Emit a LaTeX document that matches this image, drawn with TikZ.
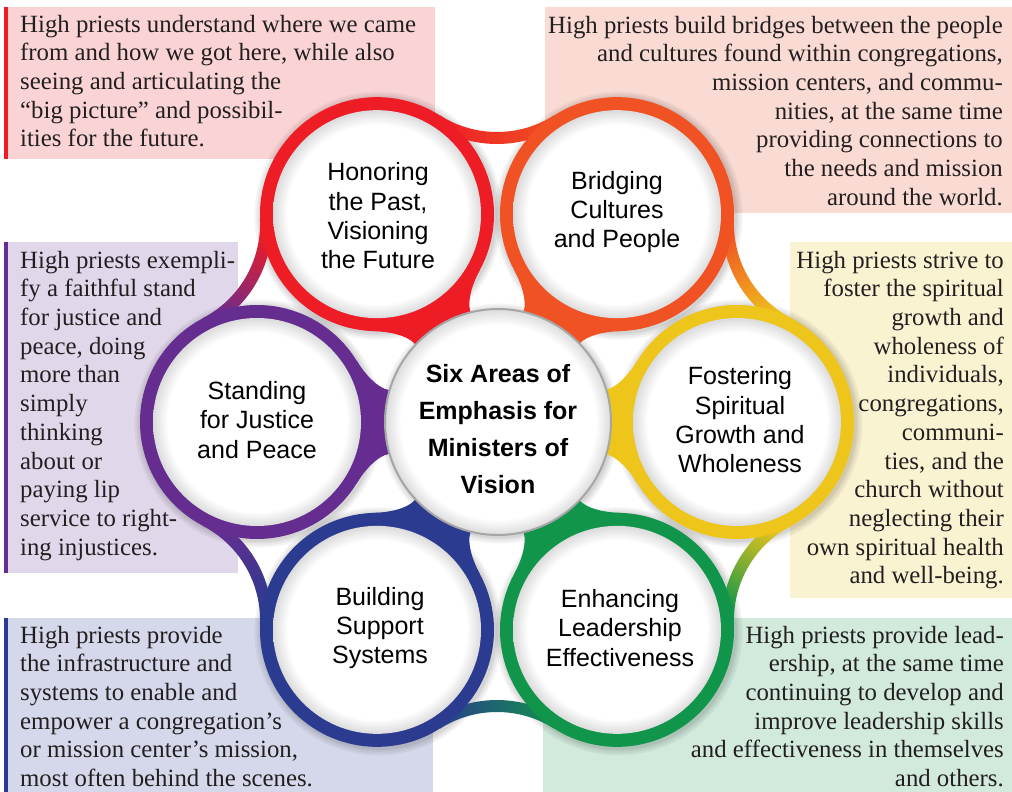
\documentclass[tikz,border=0pt]{standalone}
\usepackage{fontspec}
\setmainfont{Liberation Serif}
\setsansfont{Liberation Sans}
\usetikzlibrary{calc}
\definecolor{cRed}{HTML}{EE1C25}
\definecolor{cOrange}{HTML}{F05224}
\definecolor{cYellow}{HTML}{EEC51B}
\definecolor{cGreen}{HTML}{10954A}
\definecolor{cBlue}{HTML}{2B3B8F}
\definecolor{cPurple}{HTML}{662D91}
\definecolor{bxA}{RGB}{250,212,213}
\definecolor{bxB}{RGB}{249,219,211}
\definecolor{bxC}{RGB}{224,215,234}
\definecolor{bxD}{RGB}{250,243,210}
\definecolor{bxE}{RGB}{212,216,234}
\definecolor{bxF}{RGB}{209,234,220}
\definecolor{txt}{HTML}{231F20}
\pgfdeclareradialshading{innershadow}{\pgfpointorigin}{color(0bp)=(white); color(21.5bp)=(white); color(25bp)=(black!14); color(50bp)=(black!14)}
\begin{document}
\begin{tikzpicture}[x=1pt,y=1pt,
  desc/.style={font=\fontsize{24.8}{28.7}\selectfont, text=txt, inner sep=0pt},
  lbl/.style={font=\sffamily\fontsize{25}{29.3}\selectfont, align=center, inner sep=0pt, text=black},
  ctrlbl/.style={font=\sffamily\bfseries\fontsize{25}{37}\selectfont, align=center, inner sep=0pt, text=black},
  softshadow/.style={fill=black, opacity=0.045}]
\useasboundingbox (0,0) rectangle (1012,-792);
\fill[white] (0,0) rectangle (1012,-792);
% text boxes
\fill[bxA] (4,-7) rectangle (435,-159);
\fill[cRed] (4,-7) rectangle (8,-159);
\fill[bxB] (545,-7) rectangle (1012,-213);
\fill[bxC] (4,-242) rectangle (238,-573);
\fill[cPurple] (4,-242) rectangle (8,-573);
\fill[bxD] (790,-242) rectangle (1012,-598);
\fill[bxE] (4,-618) rectangle (433,-792);
\fill[cBlue] (4,-618) rectangle (8,-792);
\fill[bxF] (543,-618) rectangle (1012,-792);
\coordinate (O) at (497,-422);
% soft shadows around rings and centre circle
\foreach \a in {120,60,0,300,240,180}{
  \foreach \r in {124,122,120,118.5}{
    \path[softshadow] ($(O)+(\a:240)+(1.5,-1.5)$) circle[radius=\r];
  }
}
\foreach \r in {120,118,116,114.5}{
  \path[softshadow] (499.5,-423.5) circle[radius=\r];
}
% outer bridges between neighbouring rings
\foreach \a/\ct/\cb in {90/cRed/cOrange, 150/cPurple/cRed, 210/cBlue/cPurple, 270/cGreen/cBlue, 330/cYellow/cGreen, 30/cOrange/cYellow}{
  \shade[top color=\ct, bottom color=\cb, shading angle=\a]
    ($(O)+({\a}:396)+({\a+147.5}:106)$) arc[start angle={\a+147.5}, end angle={\a+212.5}, radius=106]
    -- ($(O)+({\a}:396)+({\a+212.5}:118)$) arc[start angle={\a+212.5}, end angle={\a+147.5}, radius=118] -- cycle;
}
% inner tails towards the centre
\foreach \a/\c in {120/cRed, 60/cOrange, 0/cYellow, 300/cGreen, 240/cBlue, 180/cPurple}{
  \begin{scope}[shift={(O)}, rotate=\a]
    \fill[\c] (140.1,61) .. controls (132.8,49) and (120.4,34.4) .. (108.4,32) -- (95,26) -- (95,-26) -- (108.4,-32) .. controls (120.4,-34.4) and (132.8,-49) .. (140.1,-61) -- cycle;
  \end{scope}
}
% rings
\foreach \a/\c in {120/cRed, 60/cOrange, 0/cYellow, 300/cGreen, 240/cBlue, 180/cPurple}{
  \fill[\c] ($(O)+(\a:240)$) circle[radius=117];
  \shade[shading=innershadow] ($(O)+(\a:240)$) circle[radius=104];
}
% centre circle
\shade[shading=innershadow] (498,-422) circle[radius=113];
\draw[black!35, line width=2pt] (498,-422) circle[radius=113];
% labels
\node[ctrlbl] (ctr) at (498,-429) {Six Areas of\\Emphasis for\\Ministers of\\Vision};
\node[lbl] (hon) at (378,-216) {Honoring\\the Past,\\Visioning\\the Future};
\node[lbl] (bri) at (617,-212) {Bridging\\Cultures\\and People};
\node[lbl] (fos) at (740,-420) {Fostering\\Spiritual\\Growth and\\Wholeness};
\node[lbl] (sta) at (257,-420) {Standing\\for Justice\\and Peace};
\node[lbl] (bui) at (380,-628) {Building\\Support\\Systems};
\node[lbl] (enh) at (620,-628) {Enhancing\\Leadership\\Effectiveness};
% descriptions
\node[desc, align=left, anchor=north west] (dA) at (20,-11.9) {\strut High priests understand where we came\\from and how we got here, while also\\seeing and articulating the\\“big picture” and possibil-\\ities for the future.};
\node[desc, align=right, anchor=north east] (dB) at (1003,-12.9) {\strut High priests build bridges between the people\\and cultures found within congregations,\\mission centers, and commu-\\nities, at the same time\\providing connections to\\the needs and mission\\around the world.};
\node[desc, align=left, anchor=north west] (dC) at (20,-247.9) {\strut High priests exempli-\\fy a faithful stand\\for justice and\\peace, doing\\more than\\simply\\thinking\\about or\\paying lip\\service to right-\\ing injustices.};
\node[desc, align=right, anchor=north east] (dD) at (1004,-247.9) {\strut High priests strive to\\foster the spiritual\\growth and\\wholeness of\\individuals,\\congregations,\\communi-\\ties, and the\\church without\\neglecting their\\own spiritual health\\and well-being.};
\node[desc, align=left, anchor=north west] (dE) at (20,-622.9) {\strut High priests provide\\the infrastructure and\\systems to enable and\\empower a congregation’s\\or mission center’s mission,\\most often behind the scenes.};
\node[desc, align=right, anchor=north east] (dF) at (1004,-622.9) {\strut High priests provide lead-\\ership, at the same time\\continuing to develop and\\improve leadership skills\\and effectiveness in themselves\\and others.};
\end{tikzpicture}
\end{document}
